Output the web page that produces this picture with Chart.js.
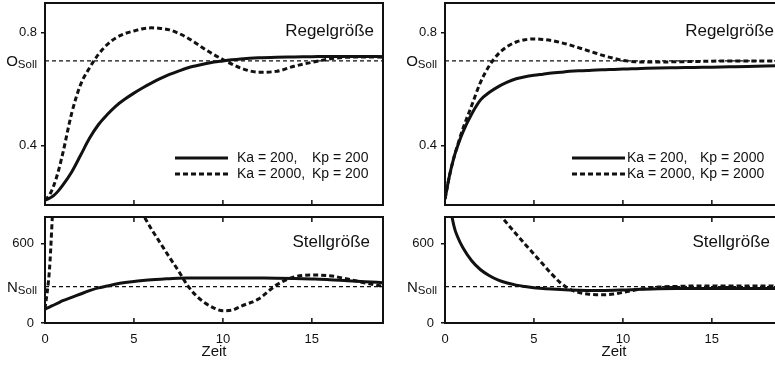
<!DOCTYPE html>
<html>
<head>
<meta charset="utf-8">
<title>Regelgröße / Stellgröße</title>
<script src="https://cdn.jsdelivr.net/npm/chart.js@4.4.1/dist/chart.umd.min.js"></script>
<style>
  html, body { margin: 0; padding: 0; background: #fff; }
  body { width: 775px; height: 368px; overflow: hidden; position: relative; }
  canvas { position: absolute; }
</style>
</head>
<body>
<canvas id="regelLinks" width="390" height="210" style="left:0;top:0"></canvas>
<canvas id="stellLinks" width="390" height="158" style="left:0;top:210px"></canvas>
<canvas id="regelRechts" width="390" height="210" style="left:400px;top:0"></canvas>
<canvas id="stellRechts" width="390" height="158" style="left:400px;top:210px"></canvas>
<script>
// time grid shared by every curve
const zeit = [0, 0.25, 0.5, 0.75, 1, 1.5, 2, 2.5, 3, 3.5, 4, 4.5, 5, 5.5, 6, 6.5, 7, 7.5, 8, 8.5, 9, 9.5, 10, 10.5, 11, 12, 13, 14, 15, 16, 17, 18, 19];

// Regelgröße, Kp = 200
const regelKa200Kp200 = [0.207, 0.214, 0.224, 0.24, 0.26, 0.307, 0.366, 0.426, 0.474, 0.51, 0.541, 0.565, 0.586, 0.605, 0.622, 0.638, 0.652, 0.664, 0.675, 0.683, 0.69, 0.696, 0.70, 0.704, 0.707, 0.711, 0.713, 0.714, 0.715, 0.716, 0.716, 0.716, 0.715];
const regelKa2000Kp200 = [0.207, 0.225, 0.26, 0.31, 0.373, 0.515, 0.616, 0.675, 0.723, 0.758, 0.782, 0.797, 0.806, 0.814, 0.817, 0.815, 0.81, 0.798, 0.782, 0.762, 0.741, 0.722, 0.705, 0.689, 0.675, 0.66, 0.663, 0.681, 0.695, 0.707, 0.713, 0.714, 0.714];
// Stellgröße, Kp = 200 (values above 800 run off the top of the panel)
const stellKa200Kp200 = [105, 120, 136, 152, 168, 193, 219, 244, 265, 279, 294, 305, 314, 321, 327, 331, 334, 337, 339, 340, 340, 340, 340, 340, 340, 339, 338, 336, 332, 327, 319, 312, 304];
const stellKa2000Kp200 = [105, 400, 1000, 1250, 1380, 1500, 1540, 1520, 1450, 1340, 1210, 1070, 930, 820, 705, 600, 495, 394, 286, 206, 151, 113, 93, 96, 126, 181, 286, 347, 362, 357, 332, 302, 276];

// Regelgröße, Kp = 2000
const regelKa200Kp2000 = [0.211, 0.293, 0.358, 0.406, 0.447, 0.512, 0.562, 0.589, 0.609, 0.625, 0.637, 0.644, 0.649, 0.653, 0.657, 0.66, 0.663, 0.665, 0.666, 0.668, 0.669, 0.67, 0.671, 0.672, 0.673, 0.675, 0.676, 0.677, 0.678, 0.679, 0.68, 0.682, 0.683];
const regelKa2000Kp2000 = [0.211, 0.293, 0.358, 0.41, 0.459, 0.542, 0.625, 0.684, 0.725, 0.751, 0.767, 0.775, 0.778, 0.776, 0.772, 0.765, 0.757, 0.747, 0.737, 0.727, 0.717, 0.709, 0.702, 0.698, 0.696, 0.696, 0.697, 0.698, 0.699, 0.70, 0.70, 0.70, 0.70];
// Stellgröße, Kp = 2000
const stellKa200Kp2000 = [1500, 950, 734, 638, 570, 470, 402, 357, 324, 302, 286, 275, 266, 261, 256, 252, 249, 247, 246, 246, 246, 247, 249, 251, 254, 259, 261, 261, 261, 261, 261, 261, 261];
const stellKa2000Kp2000 = [1350, 1310, 1270, 1230, 1190, 1100, 1010, 920, 830, 750, 671, 595, 520, 445, 369, 302, 256, 231, 219, 214, 214, 219, 231, 244, 256, 271, 276, 279, 279, 279, 279, 279, 279];

// set points and axis ticks
const oSoll = 0.70;
const nSoll = 275;
const xTicks = [0, 5, 10, 15];
const regelTicks = [0.4, 0.8];
const stellTicks = [0, 600];

const ink = '#111';
const family = '"Liberation Sans", Arial, Helvetica, sans-serif';

const series = vals => zeit.map((t, i) => ({ x: t, y: vals[i] }));
const flat = v => [{ x: 0, y: v }, { x: 19, y: v }];

// frame, inward ticks, set-point label, panel title and legend
const panelDeco = {
    id: 'panelDeco',
    afterDatasetsDraw(chart, args, opts) {
        const { ctx, chartArea: a, scales: { x, y } } = chart;
        ctx.save();
        ctx.strokeStyle = ink;
        ctx.fillStyle = ink;

        ctx.lineWidth = 2;
        ctx.strokeRect(a.left, a.top, a.right - a.left, a.bottom - a.top);

        ctx.lineWidth = 1.5;
        xTicks.filter(v => v > 0).forEach(v => {
            const px = x.getPixelForValue(v);
            ctx.beginPath();
            ctx.moveTo(px, a.bottom);
            ctx.lineTo(px, a.bottom - 5);
            if (opts.topTicks) {
                ctx.moveTo(px, a.top);
                ctx.lineTo(px, a.top + 5);
            }
            ctx.stroke();
        });

        // O_Soll / N_Soll
        const sy = y.getPixelForValue(opts.soll);
        const right = a.left - 8;
        ctx.textAlign = 'right';
        ctx.textBaseline = 'alphabetic';
        ctx.font = '11.5px ' + family;
        const subW = ctx.measureText('Soll').width;
        ctx.fillText('Soll', right, sy + 7);
        ctx.font = '15px ' + family;
        ctx.fillText(opts.sollSymbol, right - subW, sy + 5.5);

        // panel title
        ctx.font = '17px ' + family;
        ctx.textBaseline = 'middle';
        ctx.fillText(opts.title, a.right - opts.titleInset, a.top + opts.titleY);

        if (opts.legend) {
            const lg = opts.legend;
            ctx.textAlign = 'left';
            ctx.font = '14px ' + family;
            lg.rows.forEach((row, i) => {
                const ly = lg.y + i * 16;
                ctx.lineWidth = 3;
                ctx.setLineDash(row.dash);
                ctx.beginPath();
                ctx.moveTo(a.left + lg.line, ly);
                ctx.lineTo(a.left + lg.line + 53, ly);
                ctx.stroke();
                ctx.setLineDash([]);
                ctx.fillText(row.ka, a.left + lg.ka, ly);
                ctx.fillText(row.kp, a.left + lg.kp, ly);
            });
        }
        ctx.restore();
    }
};

function makePanel(id, cfg) {
    const isStell = cfg.kind === 'stell';
    new Chart(document.getElementById(id), {
        type: 'line',
        data: {
            datasets: [
                {
                    data: series(cfg.solid),
                    borderColor: ink,
                    borderWidth: 3
                },
                {
                    data: series(cfg.dashed),
                    borderColor: ink,
                    borderWidth: 3,
                    borderDash: [5, 3]
                },
                {
                    data: flat(cfg.soll),
                    borderColor: ink,
                    borderWidth: 1.3,
                    borderDash: [4, 3],
                    cubicInterpolationMode: 'default',
                    tension: 0
                }
            ]
        },
        plugins: [panelDeco],
        options: {
            responsive: false,
            animation: false,
            events: [],
            layout: { padding: isStell ? { top: 7, right: 7, bottom: 0, left: 0 } : { top: 3, right: 7, bottom: 5, left: 0 } },
            elements: {
                point: { radius: 0 },
                line: { cubicInterpolationMode: 'monotone', borderCapStyle: 'butt' }
            },
            plugins: {
                legend: { display: false },
                tooltip: { enabled: false },
                panelDeco: {
                    soll: cfg.soll,
                    sollSymbol: isStell ? 'N' : 'O',
                    title: isStell ? 'Stellgröße' : 'Regelgröße',
                    titleInset: isStell ? 13 : 9,
                    titleY: isStell ? 25 : 28,
                    topTicks: isStell,
                    legend: cfg.legend
                }
            },
            scales: {
                x: {
                    type: 'linear',
                    min: 0,
                    max: 19,
                    display: isStell,
                    afterFit: s => {
                        if (isStell) s.height = 45;
                        s.paddingLeft = 0;
                        s.paddingRight = 0;
                    },
                    afterBuildTicks: s => { s.ticks = xTicks.map(v => ({ value: v })); },
                    grid: { display: false, drawTicks: false },
                    border: { display: false },
                    ticks: { padding: 9, color: ink, font: { family, size: 13 }, callback: v => String(v) },
                    title: { display: true, text: 'Zeit', color: ink, font: { family, size: 15 }, padding: { top: 0, bottom: 7 } }
                },
                y: {
                    min: isStell ? 0 : 0.19,
                    max: isStell ? 800 : 0.905,
                    afterFit: s => {
                        s.width = 45;
                        s.paddingTop = 0;
                        s.paddingBottom = 0;
                    },
                    afterBuildTicks: s => { s.ticks = (isStell ? stellTicks : regelTicks).map(v => ({ value: v })); },
                    grid: { drawOnChartArea: false, drawTicks: true, tickLength: 4, color: ink, lineWidth: 1.5 },
                    border: { display: false },
                    ticks: { padding: isStell ? 7 : 4, color: ink, font: { family, size: 13 }, callback: v => String(v) }
                }
            }
        }
    });
}

makePanel('regelLinks', {
    kind: 'regel', solid: regelKa200Kp200, dashed: regelKa2000Kp200, soll: oSoll,
    legend: {
        y: 158, line: 130, ka: 192, kp: 267,
        rows: [
            { dash: [], ka: 'Ka = 200,', kp: 'Kp = 200' },
            { dash: [5, 3], ka: 'Ka = 2000,', kp: 'Kp = 200' }
        ]
    }
});
makePanel('stellLinks', { kind: 'stell', solid: stellKa200Kp200, dashed: stellKa2000Kp200, soll: nSoll });
makePanel('regelRechts', {
    kind: 'regel', solid: regelKa200Kp2000, dashed: regelKa2000Kp2000, soll: oSoll,
    legend: {
        y: 158, line: 127, ka: 182, kp: 255,
        rows: [
            { dash: [], ka: 'Ka = 200,', kp: 'Kp = 2000' },
            { dash: [5, 3], ka: 'Ka = 2000,', kp: 'Kp = 2000' }
        ]
    }
});
makePanel('stellRechts', { kind: 'stell', solid: stellKa200Kp2000, dashed: stellKa2000Kp2000, soll: nSoll });
</script>
</body>
</html>
